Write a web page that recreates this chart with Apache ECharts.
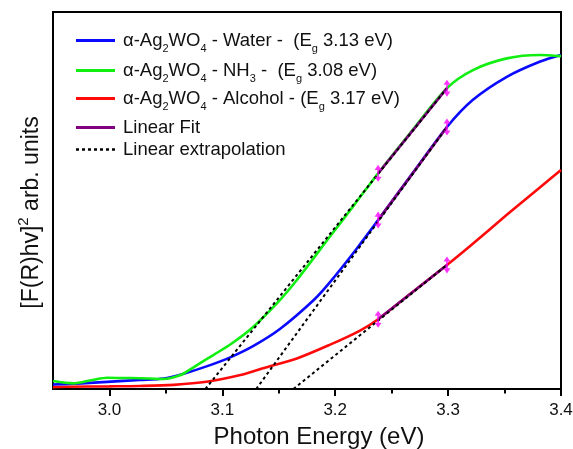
<!DOCTYPE html>
<html>
<head>
<meta charset="utf-8">
<script src="https://cdn.jsdelivr.net/npm/echarts@6/dist/echarts.min.js"></script>
<style>html,body{margin:0;padding:0;background:#fff}#c{width:573px;height:449px}</style>
</head>
<body>
<div id="c"></div>
<script>
// ---- data ----
const energyWater   = [2.95, 2.975, 2.998, 3.027, 3.048, 3.065, 3.086, 3.107, 3.128, 3.151, 3.181, 3.195, 3.219, 3.238, 3.268, 3.299, 3.322, 3.352, 3.381, 3.4];
const valuesWater   = [1.2, 1.5, 1.9, 2.4, 2.8, 4.0, 6.0, 8.4, 11.5, 15.9, 23.6, 28.2, 37.2, 44.8, 57.0, 69.5, 76.7, 82.8, 86.8, 88.6];

const energyNH3     = [2.95, 2.968, 2.985, 2.998, 3.018, 3.035, 3.048, 3.063, 3.072, 3.080, 3.092, 3.108, 3.126, 3.151, 3.166, 3.195, 3.217, 3.238, 3.268, 3.299, 3.322, 3.352, 3.381, 3.4];
const valuesNH3     = [2.1, 1.5, 2.4, 3.0, 2.9, 2.8, 2.65, 3.7, 5.3, 6.8, 9.0, 12.0, 16.1, 23.6, 28.9, 40.3, 48.9, 57.2, 68.5, 79.8, 84.6, 87.7, 88.6, 88.3];

const energyAlcohol = [2.95, 2.962, 3.0, 3.027, 3.057, 3.086, 3.116, 3.136, 3.166, 3.195, 3.222, 3.238, 3.268, 3.299, 3.319, 3.352, 3.381, 3.4];
const valuesAlcohol = [0.5, 0.6, 0.7, 0.8, 1.1, 1.9, 3.7, 5.5, 8.1, 11.7, 15.5, 18.5, 25.6, 32.9, 37.8, 46.2, 53.4, 58.1];

const fitEnergy     = [3.238, 3.299];
const fitWater      = [44.8, 69.5];
const fitNH3        = [57.2, 79.8];
const fitAlcohol    = [18.5, 32.9];

// band gap intercepts (extrapolation lines reach zero here)
const gapWater      = 3.130;
const gapNH3        = 3.085;
const gapAlcohol    = 3.163;

const majorTicks    = [3.0, 3.1, 3.2, 3.3, 3.4];
const minorTicks    = [3.05, 3.15, 3.25, 3.35];

const legendLabels = {
  'Water':   '{t|α-Ag}{s|2}{t|WO}{s|4}{t| - Water -  (E}{s|g}{t| 3.13 eV)}',
  'NH3':     '{t|α-Ag}{s|2}{t|WO}{s|4}{t| - NH}{s|3}{t| -  (E}{s|g}{t| 3.08 eV)}',
  'Alcohol': '{t|α-Ag}{s|2}{t|WO}{s|4}{t| - Alcohol - (E}{s|g}{t| 3.17 eV)}',
  'Linear Fit': '{t|Linear Fit}',
  'Linear extrapolation': '{t|Linear extrapolation}'
};

// ---- build ----
const zip = (xs, ys) => xs.map((x, i) => [x, ys[i]]);
const FONT = 'Liberation Sans, Arial, sans-serif';
const COLORS = { Water: '#0a0aff', NH3: '#11ee11', Alcohol: '#ff0a0a' };
const SOLID_ICON = 'path://M0,0h39v3h-39z';
const DASH_ICON = 'path://M0,0h3v2.4h-3z M6,0h3v2.4h-3z M12,0h3v2.4h-3z M18,0h3v2.4h-3z M24,0h3v2.4h-3z M30,0h3v2.4h-3z M36,0h3v2.4h-3z';

const curve = (name, xs, ys) => ({
  name, type: 'line', data: zip(xs, ys), symbol: 'none', smooth: 0.3,
  lineStyle: { color: COLORS[name], width: 2.6 }, itemStyle: { color: COLORS[name] }, z: 2
});
const fit = (ys) => ({
  name: 'Linear Fit', type: 'line', data: zip(fitEnergy, ys), symbol: 'none',
  lineStyle: { color: '#800080', width: 2.6 }, itemStyle: { color: '#800080' }, z: 3
});
const extrap = (gap, ys) => ({
  name: 'Linear extrapolation', type: 'line', data: [[gap, 0], [fitEnergy[1], ys[1]]], symbol: 'none',
  lineStyle: { color: '#000', width: 2, type: [3, 3] }, itemStyle: { color: '#000' }, z: 4
});

const arrowData = [];
[fitWater, fitNH3, fitAlcohol].forEach(ys => fitEnergy.forEach((x, i) => arrowData.push([x, ys[i]])));

const legendRows = [
  ['Water', 41], ['NH3', 71], ['Alcohol', 99], ['Linear Fit', 128], ['Linear extrapolation', 150]
];
const richLegend = {
  t: { fontSize: 18.5, fontFamily: FONT, color: '#111', lineHeight: 20 },
  s: { fontSize: 11, fontFamily: FONT, color: '#111', lineHeight: 27, verticalAlign: 'bottom' }
};

const axisCommon = { type: 'value', min: 2.95, max: 3.4, splitLine: { show: false } };

const option = {
  animation: false,
  backgroundColor: '#fff',
  grid: { left: 53, right: 12, top: 12, bottom: 60, show: true, borderColor: '#000', borderWidth: 2, outerBoundsMode: 'none', containLabel: false },
  legend: legendRows.map(([name, y]) => ({
    data: [{ name, icon: name === 'Linear extrapolation' ? DASH_ICON : SOLID_ICON }],
    left: 76, top: y - 10, padding: 0, itemWidth: 39, itemHeight: 3, itemGap: 0,
    formatter: n => legendLabels[n], textStyle: { rich: richLegend, padding: [0, 0, 0, 3] }
  })),
  xAxis: [
    Object.assign({}, axisCommon, {
      name: 'Photon Energy (eV)', nameLocation: 'middle', nameGap: 36,
      nameTextStyle: { fontSize: 24, fontFamily: FONT, color: '#111', padding: [0, 0, 0, 24] },
      axisLine: { lineStyle: { color: '#000', width: 2 } },
      axisTick: { customValues: majorTicks, length: 7, lineStyle: { color: '#000', width: 2 } },
      axisLabel: { customValues: majorTicks, formatter: v => v.toFixed(1), fontSize: 17, fontFamily: FONT, color: '#111', margin: 13 }
    }),
    Object.assign({}, axisCommon, {
      position: 'bottom', axisLine: { show: false },
      axisTick: { customValues: minorTicks, length: 4.5, lineStyle: { color: '#000', width: 2 } },
      axisLabel: { show: false }
    })
  ],
  yAxis: {
    type: 'value', min: 0, max: 100, splitLine: { show: false },
    axisLine: { show: true, lineStyle: { color: '#000', width: 2 } },
    axisTick: { show: false }, axisLabel: { show: false },
    name: '{n|[F(R)hv]}{p|2}{n| arb. units}', nameLocation: 'middle', nameGap: 5, nameRotate: 90,
    nameTextStyle: {
      padding: [0, 24, 0, 0],
      rich: {
        n: { fontSize: 23, fontFamily: FONT, color: '#111', lineHeight: 24 },
        p: { fontSize: 15, fontFamily: FONT, color: '#111', lineHeight: 32, verticalAlign: 'top' }
      }
    }
  },
  series: [
    curve('Alcohol', energyAlcohol, valuesAlcohol),
    curve('Water', energyWater, valuesWater),
    curve('NH3', energyNH3, valuesNH3),
    fit(fitWater), fit(fitNH3), fit(fitAlcohol),
    extrap(gapWater, fitWater), extrap(gapNH3, fitNH3), extrap(gapAlcohol, fitAlcohol),
    {
      type: 'scatter', data: arrowData, z: 5, silent: true,
      symbol: 'path://M5,0 L10,6 L6.2,6 L6.2,14 L10,14 L5,20 L0,14 L3.8,14 L3.8,6 L0,6 Z',
      symbolSize: [7, 17], itemStyle: { color: '#ff00ff' }
    }
  ]
};

const chart = echarts.init(document.getElementById('c'), null, { renderer: 'canvas' });
chart.setOption(option);
</script>
</body>
</html>
